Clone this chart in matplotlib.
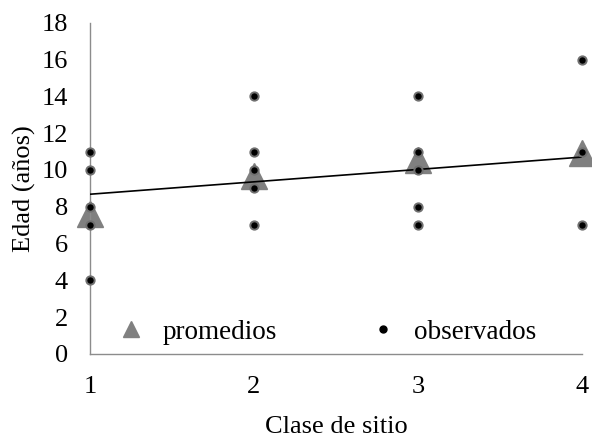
import numpy as np
import matplotlib
matplotlib.use("Agg")
import matplotlib.pyplot as plt
from matplotlib.lines import Line2D

plt.rcParams['font.family'] = ['Liberation Serif', 'DejaVu Serif']

# observed ages per site class
obs_x = [1, 1, 1, 1, 1,
         2, 2, 2, 2, 2,
         3, 3, 3, 3, 3,
         4, 4, 4]
obs_y = [11, 10, 8, 7, 4,
         14, 11, 10, 9, 7,
         14, 11, 10, 8, 7,
         16, 11, 7]

# mean age per site class
clases = [1, 2, 3, 4]
promedios = [7.6, 9.65, 10.55, 10.9]

# linear trend
trend_x = [1, 4]
trend_y = [8.68, 10.7]

fig = plt.figure(figsize=(5.92, 4.38), dpi=100)
ax = fig.add_axes([0.152, 0.192, 0.831, 0.756])

ax.plot(clases, promedios, linestyle='none', marker='^', markersize=19,
        color='#808080', clip_on=False, zorder=2)
ax.plot(trend_x, trend_y, color='black', linewidth=1.2, zorder=3)
ax.plot(obs_x, obs_y, linestyle='none', marker='o', markersize=6,
        markerfacecolor='black', markeredgecolor='#707070', markeredgewidth=1.4,
        clip_on=False, zorder=4)

ax.set_xlim(1, 4)
ax.set_ylim(0, 18)
ax.set_xticks(clases)
ax.set_yticks(np.arange(0, 19, 2))
ax.tick_params(length=0, labelsize=19, pad=16)

for s in ['top', 'right']:
    ax.spines[s].set_visible(False)
for s in ['left', 'bottom']:
    ax.spines[s].set_color('#8c8c8c')
    ax.spines[s].set_linewidth(1.0)

ax.set_xlabel('Clase de sitio', fontsize=19, labelpad=13)
ax.set_ylabel('Edad (años)', fontsize=19, labelpad=4)

handles = [
    Line2D([], [], linestyle='none', marker='^', markersize=12, color='#808080'),
    Line2D([], [], linestyle='none', marker='o', markersize=5, color='black'),
]
ax.legend(handles, ['promedios', 'observados'], loc='center',
          bbox_to_anchor=(0.479, 0.065), ncol=2, frameon=False, fontsize=19.5,
          columnspacing=3.3, handletextpad=0.55, handlelength=1.2)

fig.savefig('out.png', dpi=100)
